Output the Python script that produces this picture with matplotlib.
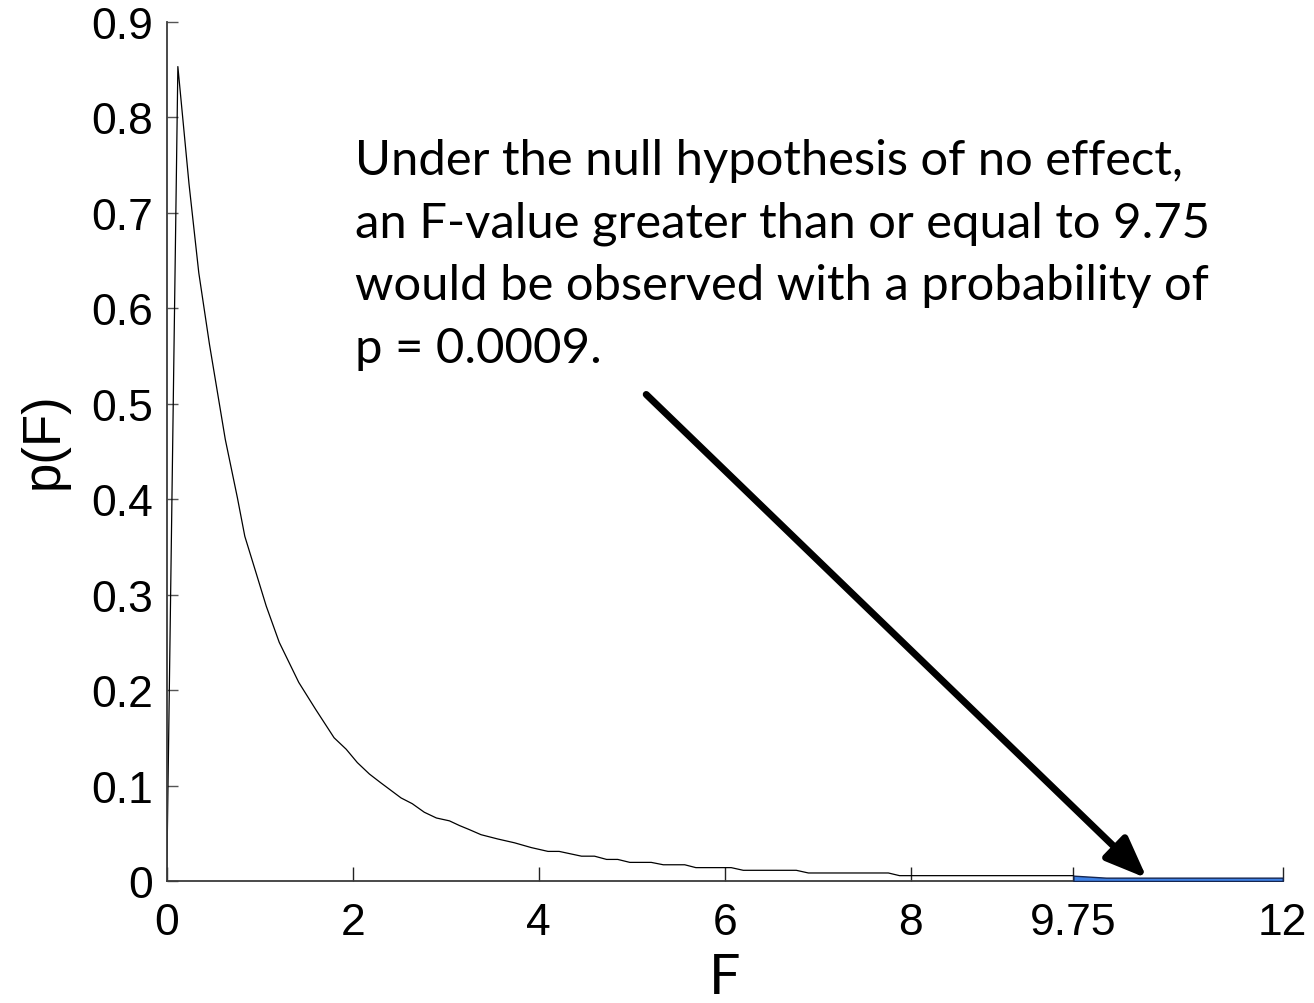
import matplotlib
matplotlib.use("Agg")
import matplotlib.pyplot as plt

# ---- data ----
F_vals = [0, 0.12, 0.24, 0.345, 0.46, 0.63, 0.76, 0.84, 0.96, 1.07, 1.21, 1.42, 1.60,
          1.80, 1.93, 2.05, 2.18, 2.30, 2.52, 2.64, 2.77, 2.90, 3.04, 3.15, 3.25, 3.38,
          3.56, 3.74, 3.92, 4.10, 4.22, 4.46, 4.60, 4.73, 4.85, 4.98, 5.21, 5.34, 5.57,
          5.69, 6.07, 6.20, 6.77, 6.90, 7.76, 7.88, 9.75]
pF_vals = [0, 0.853, 0.730, 0.637, 0.562, 0.4625, 0.4015, 0.361, 0.323, 0.288, 0.250,
           0.208, 0.180, 0.150, 0.138, 0.124, 0.112, 0.103, 0.087, 0.081, 0.072, 0.066,
           0.063, 0.058, 0.054, 0.0485, 0.044, 0.040, 0.035, 0.031, 0.031, 0.026, 0.026,
           0.0226, 0.0226, 0.0195, 0.0195, 0.017, 0.017, 0.014, 0.014, 0.0112, 0.0112,
           0.0084, 0.0084, 0.0056, 0.0056]
tail_F = [9.75, 9.85, 10.1, 12]
tail_p = [0.0056, 0.0050, 0.0035, 0.0035]

x_ticks = [0, 2, 4, 6, 8, 9.75, 12]
x_ticklabels = ["0", "2", "4", "6", "8", "9.75", "12"]
y_ticks = [0, 0.1, 0.2, 0.3, 0.4, 0.5, 0.6, 0.7, 0.8, 0.9]
y_ticklabels = ["0", "0.1", "0.2", "0.3", "0.4", "0.5", "0.6", "0.7", "0.8", "0.9"]

note_lines = ["Under the null hypothesis of no effect,",
              "an F-value greater than or equal to 9.75",
              "would be observed with a probability of",
              "p = 0.0009."]
arrow_start = (5.156, 0.5096)
arrow_tip = (10.54, 0.0028)

W, H = 1314, 1004
fig = plt.figure(figsize=(W / 100, H / 100), dpi=100)
ax = fig.add_axes([166.7 / W, 1 - 882 / H, (1282.7 - 166.7) / W, (882 - 22.7) / H])

ax.plot(F_vals, pF_vals, color="black", lw=0.9)
ax.fill_between(tail_F, tail_p, 0, facecolor="#3f82e6", edgecolor="#16264f", lw=1.0,
                zorder=3)

ax.set_xlim(0, 12)
ax.set_ylim(0, 0.9)
ax.set_xticks(x_ticks)
ax.set_xticklabels(x_ticklabels)
ax.set_yticks(y_ticks)
ax.set_yticklabels(y_ticklabels)

for s in ["top", "right"]:
    ax.spines[s].set_visible(False)
for s in ["left", "bottom"]:
    ax.spines[s].set_color("#3a3a3a")
    ax.spines[s].set_linewidth(1.3)

tick_font = "Liberation Sans"
ax.tick_params(axis="x", direction="in", length=10, width=1.0, color="#222222",
               labelsize=32, pad=15)
ax.tick_params(axis="y", direction="in", length=8, width=1.0, color="#555555",
               labelsize=32, pad=10)
for lab in ax.get_xticklabels() + ax.get_yticklabels():
    lab.set_fontfamily(tick_font)

ax.set_ylabel("p(F)", fontsize=38, fontfamily="Liberation Sans")
ax.yaxis.set_label_coords(-0.088, 0.514)
ax.set_xlabel("F", fontsize=40, fontfamily="Lato")
ax.xaxis.set_label_coords(0.5, -0.083)

# annotation text, size fitted to the reference line width
note_font = "Lato"
target_width = 858.0
size = 33.0
renderer = fig.canvas.get_renderer()
probe = fig.text(0, 0, note_lines[1], fontsize=size, fontfamily=note_font)
w = probe.get_window_extent(renderer).width
probe.remove()
size = size * target_width / w

baselines = [175, 237, 300, 363]
for line, b in zip(note_lines, baselines):
    fig.text(355 / W, 1 - b / H, line, fontsize=size, fontfamily=note_font,
             ha="left", va="baseline", color="black")

ax.annotate("", xy=arrow_tip, xytext=arrow_start,
            arrowprops=dict(arrowstyle="-|>,head_length=1.25,head_width=0.5",
                            mutation_scale=20, lw=5, color="black",
                            shrinkA=0, shrinkB=0, capstyle="round"),
            annotation_clip=False)

fig.savefig("out.png", dpi=100)
